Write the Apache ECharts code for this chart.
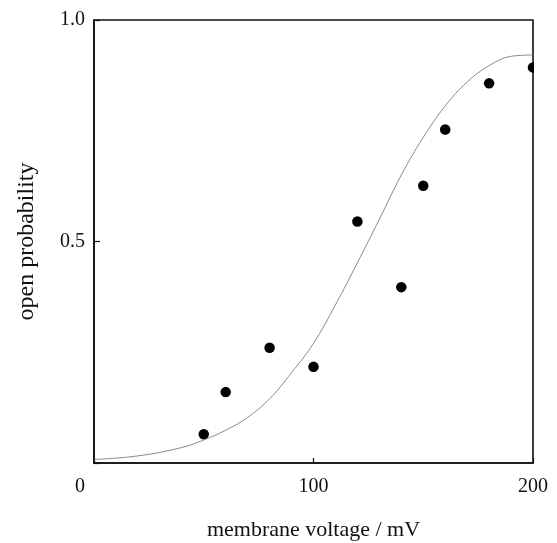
<!DOCTYPE html>
<html>
<head>
<meta charset="utf-8">
<script src="https://cdn.jsdelivr.net/npm/echarts@6/dist/echarts.min.js"></script>
<style>html,body{margin:0;padding:0;background:#fff;}#chart{width:557px;height:543px;}</style>
</head>
<body>
<div id="chart"></div>
<script>
// measured data points (voltage mV, open probability)
const dotVoltage = [50, 60, 80, 100, 120, 140, 150, 160, 180, 200];
const dotProb = [0.065, 0.160, 0.260, 0.217, 0.545, 0.397, 0.626, 0.753, 0.857, 0.893];
// fitted curve
const curveVoltage = [0, 20, 40, 50, 60, 70, 80, 90, 100, 110, 120, 130, 140, 150, 160, 170, 180, 190, 200];
const curveProb = [0.008, 0.016, 0.035, 0.052, 0.074, 0.103, 0.145, 0.204, 0.27, 0.357, 0.452, 0.55, 0.65, 0.735, 0.806, 0.86, 0.897, 0.918, 0.921];
const xTicks = [0, 100, 200];
const yTickLabels = {0: '', 0.5: '0.5', 1: '1.0'};

const font = 'Liberation Serif';
const chart = echarts.init(document.getElementById('chart'));
chart.setOption({
  animation: false,
  backgroundColor: '#fff',
  grid: {left: 94, top: 20, right: 24, bottom: 80, containLabel: false, outerBoundsMode: 'none',
         show: true, borderColor: '#111', borderWidth: 1.6},
  graphic: [
    {type: 'rect', left: 534, top: 30, z: 100, shape: {width: 23, height: 100}, style: {fill: '#fff'}}
  ],
  xAxis: {
    type: 'value', min: 0, max: 200, interval: 100,
    name: 'membrane voltage / mV', nameLocation: 'middle', nameGap: 56,
    nameTextStyle: {fontFamily: font, fontSize: 22, color: '#111'},
    axisLine: {show: true, lineStyle: {color: '#111', width: 1.6}},
    axisTick: {show: true, inside: true, length: 5, lineStyle: {color: '#111', width: 1.2}},
    splitLine: {show: false},
    axisLabel: {
      margin: 14, fontFamily: font, fontSize: 20, color: '#111',
      formatter: function (v) { return v === xTicks[0] ? '{o|' + v + '}' : String(v); },
      rich: {o: {fontFamily: font, fontSize: 20, color: '#111', padding: [0, 28, 0, 0]}}
    }
  },
  yAxis: {
    type: 'value', min: 0, max: 1, interval: 0.5,
    name: 'open probability', nameLocation: 'middle', nameGap: 55,
    nameTextStyle: {fontFamily: font, fontSize: 24, color: '#111'},
    axisLine: {show: true, lineStyle: {color: '#111', width: 1.6}},
    axisTick: {show: true, inside: true, length: 6, lineStyle: {color: '#111', width: 1.2}},
    splitLine: {show: false},
    axisLabel: {margin: 9, fontFamily: font, fontSize: 20, color: '#111',
      formatter: function (v) { return yTickLabels[v] !== undefined ? yTickLabels[v] : ''; }}
  },
  series: [
    {
      type: 'line', smooth: 0.4, showSymbol: false, clip: true,
      data: curveVoltage.map((v, i) => [v, curveProb[i]]),
      lineStyle: {color: '#8a8a8a', width: 1}
    },
    {
      type: 'scatter', clip: true, symbol: 'circle', symbolSize: 10.5,
      data: dotVoltage.map((v, i) => [v, dotProb[i]]),
      itemStyle: {color: '#000', opacity: 1}
    }
  ]
});
</script>
</body>
</html>
